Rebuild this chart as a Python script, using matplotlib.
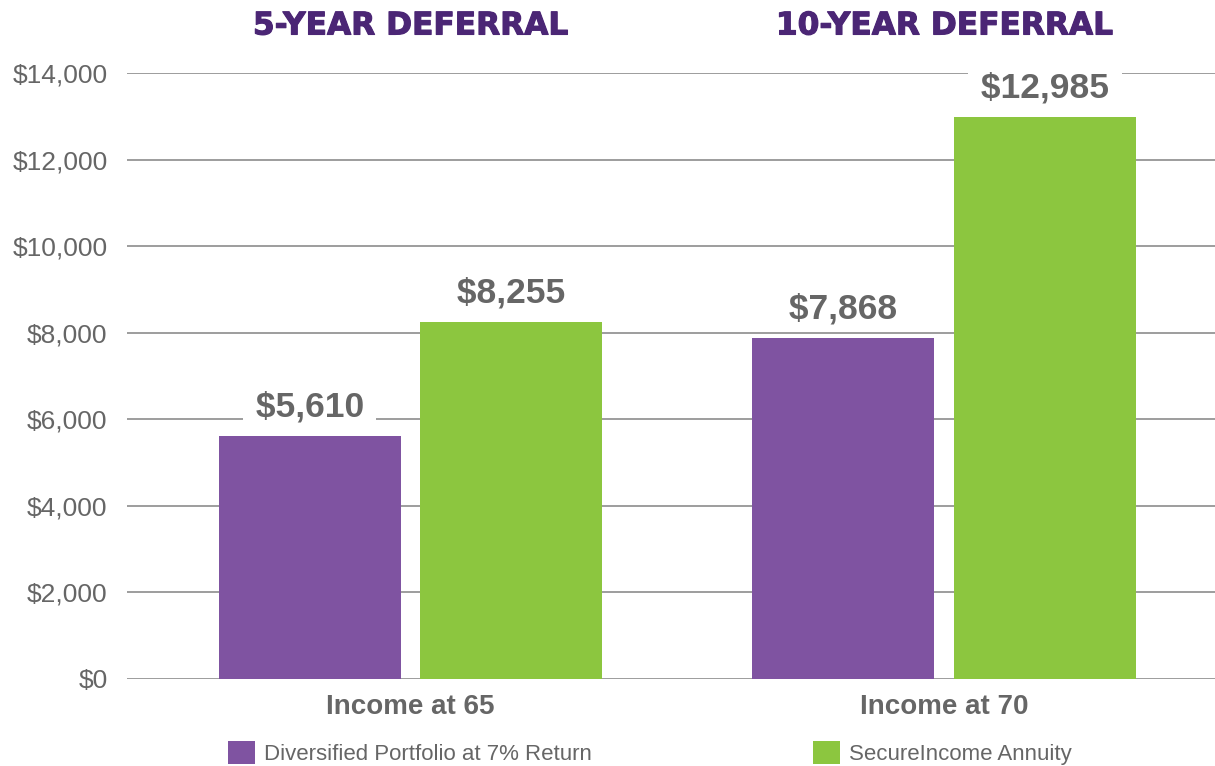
import matplotlib
matplotlib.use("Agg")
import matplotlib.pyplot as plt
import matplotlib.transforms as mtransforms
import matplotlib.patheffects as pe
from matplotlib.patches import Patch
import numpy as np

categories = ["Income at 65", "Income at 70"]
group_titles = ["5-YEAR DEFERRAL", "10-YEAR DEFERRAL"]
series_names = ["Diversified Portfolio at 7% Return", "SecureIncome Annuity"]
portfolio = [5610, 7868]
annuity = [8255, 12985]
yticks = [0, 2000, 4000, 6000, 8000, 10000, 12000, 14000]

PURPLE = "#7F53A1"
GREEN = "#8CC63F"
TITLE = "#4B2675"
GRAY = "#666666"
GRID = "#959595"

plt.rcParams['font.family'] = ['Liberation Sans', 'DejaVu Sans']

fig = plt.figure(figsize=(12.15, 7.66), dpi=100)
ax = fig.add_axes([127/1215, 1-679/766, 1-127/1215, (679-73)/766])

x = np.arange(len(categories))
w = 0.341
off = 0.189
b1 = ax.bar(x - off, portfolio, w, color=PURPLE, zorder=2)
b2 = ax.bar(x + off, annuity, w, color=GREEN, zorder=2)

ax.set_xlim(-0.531, 1.507)
ax.set_ylim(0, 14000)
ax.set_yticks(yticks)
ax.set_yticklabels([f"${v:,}" for v in yticks], fontsize=19, color=GRAY)
ax.set_xticks(x)
ax.set_xticklabels(categories, fontsize=20, fontweight='bold', color=GRAY)
ax.tick_params(axis='y', length=0, pad=14)
ax.tick_params(axis='x', length=0, pad=11)
ax.yaxis.grid(True, color=GRID, linewidth=1.3)
ax.set_axisbelow(True)
for s in ax.spines.values():
    s.set_visible(False)

for bars, vals in ((b1, portfolio), (b2, annuity)):
    for r, v in zip(bars, vals):
        ax.annotate(f" ${v:,} ", (r.get_x() + r.get_width()/2, v),
                    xytext=(0, 9), textcoords='offset points',
                    ha='center', va='bottom', fontsize=25.5, fontweight='bold',
                    color=GRAY, zorder=1,
                    bbox=dict(boxstyle='square,pad=0.08', fc='white', ec='none'))

trans = mtransforms.blended_transform_factory(ax.transData, ax.transAxes)
for xi, t in zip(x, group_titles):
    ax.text(xi, (679-26)/606, t, transform=trans, ha='center', va='center',
            fontsize=22.5, fontweight='bold', color=TITLE,
            family=['DejaVu Sans'],
            path_effects=[pe.withStroke(linewidth=0.8, foreground=TITLE)])

for name, col, px in ((series_names[0], PURPLE, 228), (series_names[1], GREEN, 813)):
    fig.legend(handles=[Patch(facecolor=col, edgecolor='none', label=name)],
               loc='center left', bbox_to_anchor=(px/1215, 1-753/766),
               frameon=False, fontsize=16, labelcolor=GRAY,
               handlelength=1.2, handleheight=1.2, handletextpad=0.4,
               borderpad=0, borderaxespad=0)

fig.savefig("out.png", dpi=100, facecolor='white')
